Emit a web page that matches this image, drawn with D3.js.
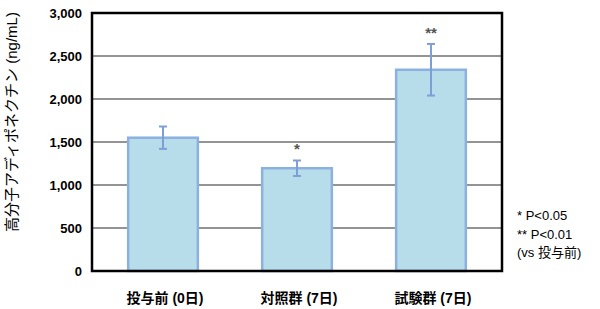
<!DOCTYPE html>
<html>
<head>
<meta charset="utf-8">
<script src="https://cdnjs.cloudflare.com/ajax/libs/d3/7.8.5/d3.min.js"></script>
<style>
  body { margin: 0; background: #fff; }
  svg { font-family: "Liberation Sans", Arial, "Noto Sans CJK JP", sans-serif; }
</style>
</head>
<body>
<div id="chart"></div>
<script>
const groups = ['投与前 (0日)', '対照群 (7日)', '試験群 (7日)'];
const means = [1550, 1195, 2340];
const errors = [130, 90, 300];
const marks = ['', '*', '**'];
const yTicks = [0, 500, 1000, 1500, 2000, 2500, 3000];
const notes = ['* P<0.05', '** P<0.01', '(vs 投与前)'];

const W = 600, H = 309;
const margin = { top: 13, right: 98, bottom: 38, left: 92 },
      width = W - margin.left - margin.right,
      height = H - margin.top - margin.bottom;

const svg = d3.select('#chart').append('svg')
    .attr('width', W)
    .attr('height', H);

const g = svg.append('g')
    .attr('transform', `translate(${margin.left},${margin.top})`);

const x = d3.scaleBand()
    .domain(groups)
    .range([0, width])
    .paddingInner(0.48)
    .paddingOuter(0.27);

const y = d3.scaleLinear()
    .domain([0, 3000])
    .range([height, 0]);

// gridlines
g.selectAll('.grid')
    .data(yTicks.slice(1, -1))
    .enter().append('line')
    .attr('x1', 0)
    .attr('x2', width)
    .attr('y1', d => y(d))
    .attr('y2', d => y(d))
    .attr('stroke', '#2a2a2a')
    .attr('stroke-width', 1.2);

// y-axis labels
const yAxis = g.append('g')
    .call(d3.axisLeft(y).tickValues(yTicks).tickSize(0).tickPadding(10).tickFormat(d3.format(',')));
yAxis.select('.domain').remove();
yAxis.selectAll('text')
    .attr('font-size', 13)
    .attr('font-weight', 'bold')
    .attr('fill', '#000')
    .attr('font-family', '"Liberation Sans", Arial, sans-serif');

// bars
g.selectAll('.bar')
    .data(groups)
    .enter().append('rect')
    .attr('x', d => x(d))
    .attr('y', (d, i) => y(means[i]))
    .attr('width', x.bandwidth())
    .attr('height', (d, i) => height - y(means[i]))
    .attr('fill', '#b7dcea')
    .attr('stroke', '#8cb1e0')
    .attr('stroke-width', 2.5);

// error bars
const err = g.selectAll('.err')
    .data(groups)
    .enter().append('g')
    .attr('stroke', '#7e9fd5')
    .attr('stroke-width', 2);
err.append('line')
    .attr('x1', d => x(d) + x.bandwidth() / 2)
    .attr('x2', d => x(d) + x.bandwidth() / 2)
    .attr('y1', (d, i) => y(means[i] + errors[i]))
    .attr('y2', (d, i) => y(means[i] - errors[i]));
[1, -1].forEach(s => {
    err.append('line')
        .attr('x1', d => x(d) + x.bandwidth() / 2 - 4)
        .attr('x2', d => x(d) + x.bandwidth() / 2 + 4)
        .attr('y1', (d, i) => y(means[i] + s * errors[i]))
        .attr('y2', (d, i) => y(means[i] + s * errors[i]));
});

// significance marks
g.selectAll('.mark')
    .data(groups)
    .enter().append('text')
    .attr('x', d => x(d) + x.bandwidth() / 2)
    .attr('y', (d, i) => y(means[i] + errors[i]) - 6)
    .attr('text-anchor', 'middle')
    .attr('font-size', 15)
    .attr('font-weight', 'bold')
    .attr('fill', '#555')
    .text((d, i) => marks[i]);

// frame
g.append('rect')
    .attr('x', 0)
    .attr('y', 0)
    .attr('width', width)
    .attr('height', height)
    .attr('fill', 'none')
    .attr('stroke', '#000')
    .attr('stroke-width', 2.5);

// x labels
g.selectAll('.xlabel')
    .data(groups)
    .enter().append('text')
    .attr('x', d => x(d) + x.bandwidth() / 2 + 2)
    .attr('y', height + 32)
    .attr('text-anchor', 'middle')
    .attr('font-size', 14)
    .attr('font-weight', 'bold')
    .attr('fill', '#000')
    .text(d => d);

// y title
svg.append('text')
    .attr('transform', 'translate(17,122) rotate(-90)')
    .attr('text-anchor', 'middle')
    .attr('font-size', 15)
    .attr('fill', '#000')
    .text('高分子アディポネクチン (ng/mL)');

// notes
svg.selectAll('.note')
    .data(notes)
    .enter().append('text')
    .attr('x', 517)
    .attr('y', (d, i) => 220 + i * 18.5)
    .attr('font-size', 13)
    .attr('fill', '#000')
    .text(d => d);
</script>
</body>
</html>
